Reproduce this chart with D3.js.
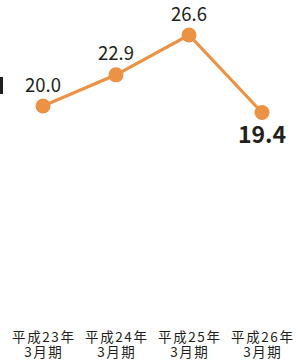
<!DOCTYPE html>
<html>
<head>
<meta charset="utf-8">
<script src="https://cdn.jsdelivr.net/npm/d3@7.9.0/dist/d3.min.js"></script>
<style>
  body { margin: 0; background: #fff; }
  svg { display: block; font-family: "Noto Sans CJK JP", "Noto Sans", sans-serif; }
</style>
</head>
<body>
<svg id="chart" width="298" height="360"></svg>
<script>
// Data
const years = ['平成23年', '平成24年', '平成25年', '平成26年'];
const periods = ['3月期', '3月期', '3月期', '3月期'];
const values = [20.0, 22.9, 26.6, 19.4];

const orange = '#ec9245';
const textColor = '#231f20';

const svg = d3.select('#chart');

// x: band centres at about 43, 116, 189, 262
const x = d3.scalePoint()
  .domain(years)
  .range([43, 262]);

// y: 20.0 sits near y=106, 26.6 near y=35
const y = d3.scaleLinear()
  .domain([19, 27])
  .range([116.8, 30.7]);

const data = years.map((d, i) => ({ year: d, period: periods[i], value: values[i] }));

// small dark fragment at the left edge
svg.append('rect')
  .attr('x', 0).attr('y', 77)
  .attr('width', 3).attr('height', 17)
  .attr('fill', textColor);

// line
const line = d3.line()
  .x(d => x(d.year))
  .y(d => y(d.value));

svg.append('path')
  .datum(data)
  .attr('d', line)
  .attr('fill', 'none')
  .attr('stroke', orange)
  .attr('stroke-width', 3.2);

// points
svg.selectAll('circle')
  .data(data)
  .join('circle')
  .attr('cx', d => x(d.year))
  .attr('cy', d => y(d.value))
  .attr('r', 7.5)
  .attr('fill', orange);

// value labels: last one bold and below
const last = data.length - 1;
svg.selectAll('text.val')
  .data(data)
  .join('text')
  .attr('class', 'val')
  .attr('x', d => x(d.year))
  .attr('y', (d, i) => i === last ? y(d.value) + 31 : y(d.value) - 14.5)
  .attr('text-anchor', 'middle')
  .attr('fill', textColor)
  .attr('font-size', (d, i) => i === last ? 23 : 18.5)
  .attr('font-weight', (d, i) => i === last ? 700 : 400)
  .text(d => d.value.toFixed(1));

// category labels, two lines in one text
const cats = svg.selectAll('text.cat')
  .data(data)
  .join('text')
  .attr('class', 'cat')
  .attr('text-anchor', 'middle')
  .attr('fill', textColor)
  .attr('font-size', 13.5);

cats.append('tspan')
  .attr('x', d => x(d.year) + 0.8)
  .attr('y', 341.5)
  .attr('letter-spacing', 1.6)
  .text(d => d.year);

cats.append('tspan')
  .attr('x', d => x(d.year) + 0.8)
  .attr('y', 357)
  .attr('letter-spacing', 1.6)
  .text(d => d.period);
</script>
</body>
</html>
